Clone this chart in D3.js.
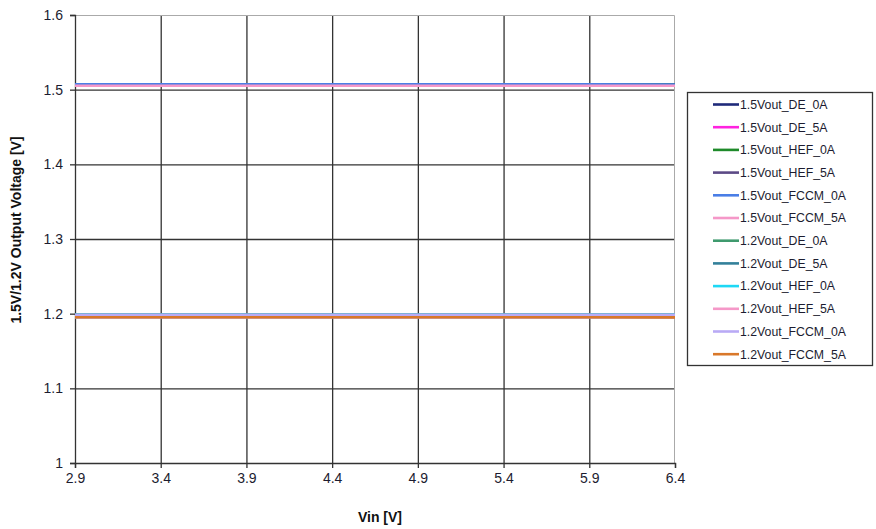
<!DOCTYPE html>
<html>
<head>
<meta charset="utf-8">
<script src="https://cdn.jsdelivr.net/npm/d3@7"></script>
<style>
body { margin: 0; background: #fff; }
svg text { font-family: Arial, "Liberation Sans", sans-serif; }
</style>
</head>
<body>
<svg id="chart" width="876" height="529"></svg>
<script>
// data
var vin = [2.9, 3.4, 3.9, 4.4, 4.9, 5.4, 5.9, 6.4];
var xTicks = [2.9, 3.4, 3.9, 4.4, 4.9, 5.4, 5.9, 6.4];
var yTicks = [1, 1.1, 1.2, 1.3, 1.4, 1.5, 1.6];
var seriesNames = ["1.5Vout_DE_0A", "1.5Vout_DE_5A", "1.5Vout_HEF_0A", "1.5Vout_HEF_5A",
    "1.5Vout_FCCM_0A", "1.5Vout_FCCM_5A", "1.2Vout_DE_0A", "1.2Vout_DE_5A",
    "1.2Vout_HEF_0A", "1.2Vout_HEF_5A", "1.2Vout_FCCM_0A", "1.2Vout_FCCM_5A"];
var seriesColors = ["#1f2a7a", "#ff22e0", "#1e8a2a", "#5c4a86", "#4a7ee6", "#f598c8",
    "#3f9a6e", "#33809a", "#1ed8f5", "#f598c8", "#b9aaf5", "#d9782a"];
var v15_DE_0A = [1.5070, 1.5070, 1.5070, 1.5070, 1.5070, 1.5070, 1.5070, 1.5070];
var v15_DE_5A = [1.5053, 1.5053, 1.5053, 1.5053, 1.5053, 1.5053, 1.5053, 1.5053];
var v15_HEF_0A = [1.5070, 1.5070, 1.5070, 1.5070, 1.5070, 1.5070, 1.5070, 1.5070];
var v15_HEF_5A = [1.5053, 1.5053, 1.5053, 1.5053, 1.5053, 1.5053, 1.5053, 1.5053];
var v15_FCCM_0A = [1.5072, 1.5072, 1.5072, 1.5072, 1.5072, 1.5071, 1.5071, 1.5068];
var v15_FCCM_5A = [1.5053, 1.5053, 1.5053, 1.5053, 1.5053, 1.5052, 1.5052, 1.5052];
var v12_DE_0A = [1.1985, 1.1985, 1.1985, 1.1985, 1.1985, 1.1985, 1.1985, 1.1985];
var v12_DE_5A = [1.1952, 1.1952, 1.1952, 1.1952, 1.1952, 1.1952, 1.1952, 1.1952];
var v12_HEF_0A = [1.1985, 1.1985, 1.1985, 1.1985, 1.1985, 1.1985, 1.1985, 1.1985];
var v12_HEF_5A = [1.1952, 1.1952, 1.1952, 1.1952, 1.1952, 1.1952, 1.1952, 1.1952];
var v12_FCCM_0A = [1.1986, 1.1986, 1.1986, 1.1986, 1.1986, 1.1986, 1.1986, 1.1986];
var v12_FCCM_5A = [1.1953, 1.1953, 1.1953, 1.1953, 1.1952, 1.1952, 1.1952, 1.1951];
var seriesValues = [v15_DE_0A, v15_DE_5A, v15_HEF_0A, v15_HEF_5A, v15_FCCM_0A, v15_FCCM_5A,
    v12_DE_0A, v12_DE_5A, v12_HEF_0A, v12_HEF_5A, v12_FCCM_0A, v12_FCCM_5A];

var margin = {top: 15, left: 75, right: 201, bottom: 66},
    width = 876 - margin.left - margin.right,
    height = 529 - margin.top - margin.bottom;

var svg = d3.select("#chart");
var g = svg.append("g").attr("transform", "translate(" + margin.left + "," + margin.top + ")");

var x = d3.scaleLinear().domain([2.9, 6.4]).range([0, width]);
var y = d3.scaleLinear().domain([1, 1.6]).range([height, 0]);

// grid
g.append("g").selectAll("line").data(xTicks.slice(1, -1)).join("line")
    .attr("x1", function (d) { return x(d) + 0.5; }).attr("x2", function (d) { return x(d) + 0.5; })
    .attr("y1", 0).attr("y2", height)
    .attr("stroke", "#333").attr("stroke-width", 1.3);
g.append("g").selectAll("line").data(yTicks.slice(1, -1)).join("line")
    .attr("x1", 0).attr("x2", width)
    .attr("y1", function (d) { return y(d) + 0.5; }).attr("y2", function (d) { return y(d) + 0.5; })
    .attr("stroke", "#333").attr("stroke-width", 1.3);

// top & right border (light)
g.append("path").attr("d", "M0,0.5H" + (width - 0.5) + "V" + height)
    .attr("fill", "none").attr("stroke", "#aaa").attr("stroke-width", 1);

// axes
var xAxis = g.append("g").attr("transform", "translate(0," + height + ")")
    .call(d3.axisBottom(x).tickValues(xTicks).tickSize(5).tickFormat(d3.format(".1f")));
var yAxis = g.append("g")
    .call(d3.axisLeft(y).tickValues(yTicks).tickSize(5).tickFormat(function (d) { return d === 1 ? "1" : d3.format(".1f")(d); }));
[xAxis, yAxis].forEach(function (a) {
    a.select(".domain").attr("stroke", "#333").attr("stroke-width", 1.3);
    a.selectAll(".tick line").attr("stroke", "#333").attr("stroke-width", 1.3);
    a.selectAll(".tick text").attr("fill", "#1c1c30").style("font-size", "14px");
});
xAxis.selectAll(".tick text").attr("dy", "0.85em");
yAxis.selectAll(".tick text").attr("x", -12);

// series
var line = d3.line().x(function (d, i) { return x(vin[i]); }).y(function (d) { return y(d); });
seriesValues.forEach(function (vals, i) {
    g.append("path").datum(vals).attr("fill", "none")
        .attr("stroke", seriesColors[i]).attr("stroke-width", 2.6).attr("d", line);
});

// axis titles
svg.append("text").attr("x", 380).attr("y", 522).attr("text-anchor", "middle")
    .style("font-size", "14px").style("font-weight", "bold").attr("fill", "#111").text("Vin [V]");
svg.append("text").attr("transform", "translate(21,230) rotate(-90)")
    .attr("text-anchor", "middle").style("font-size", "14px").style("font-weight", "bold")
    .attr("fill", "#111").text("1.5V/1.2V Output Voltage [V]");

// legend
var legend = svg.append("g").attr("transform", "translate(687,92)");
legend.append("rect").attr("x", 0.5).attr("y", 0.5).attr("width", 185).attr("height", 273)
    .attr("fill", "#fff").attr("stroke", "#333").attr("stroke-width", 1.3);
var items = legend.selectAll("g.item").data(seriesNames).join("g").attr("class", "item")
    .attr("transform", function (d, i) { return "translate(0," + (12.5 + i * 22.7) + ")"; });
items.append("line").attr("x1", 26).attr("x2", 52).attr("y1", 0).attr("y2", 0)
    .attr("stroke", function (d, i) { return seriesColors[i]; }).attr("stroke-width", 2.6);
items.append("text").attr("x", 53).attr("y", 0).attr("dy", "0.35em")
    .style("font-size", "12.3px").attr("fill", "#1c1c30").text(function (d) { return d; });
</script>
</body>
</html>
